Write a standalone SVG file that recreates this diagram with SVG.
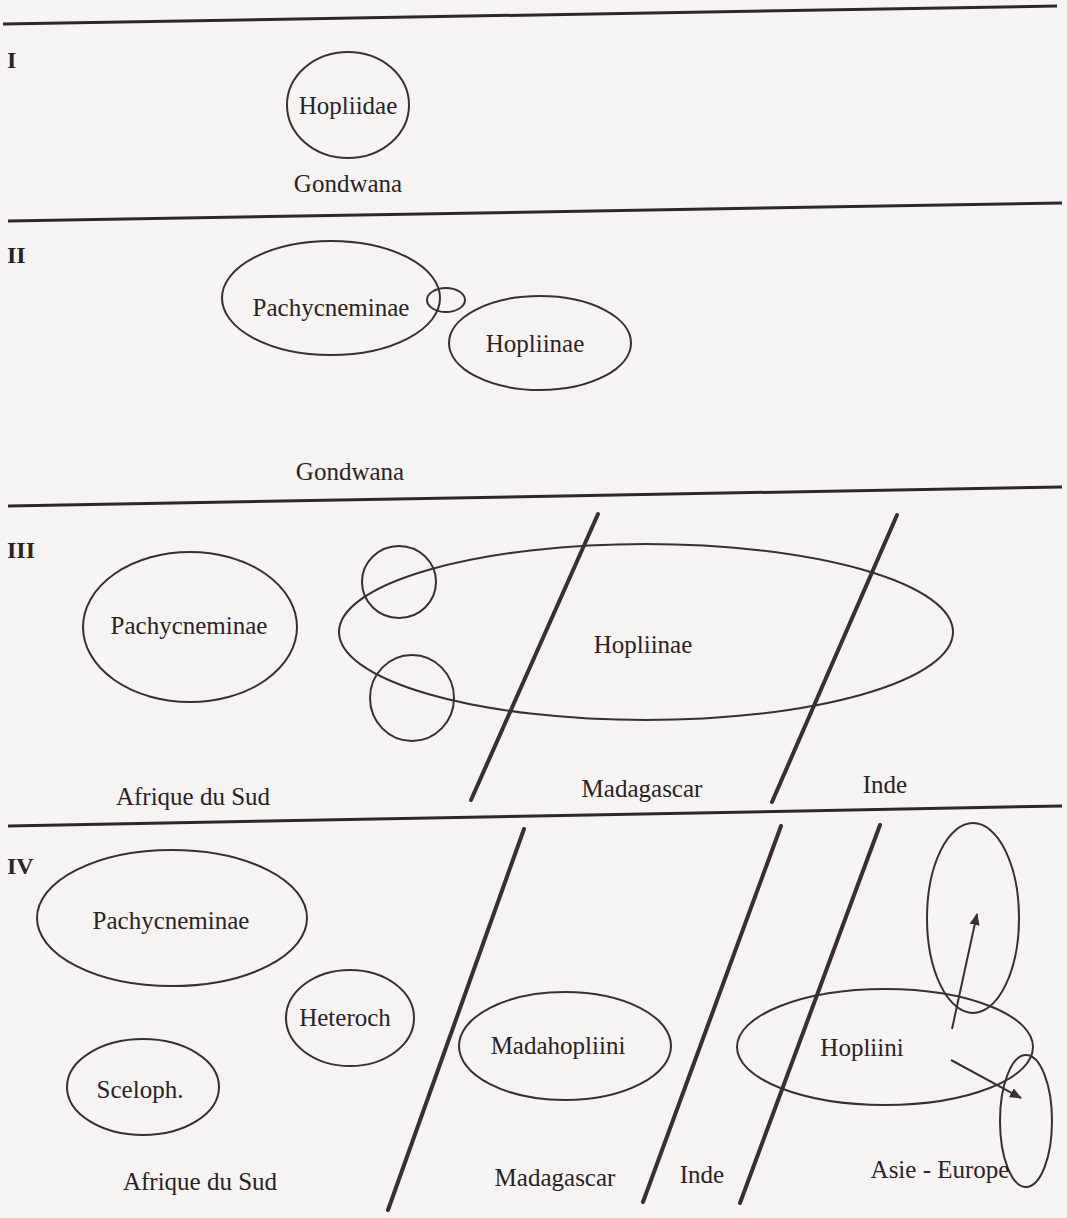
<svg xmlns="http://www.w3.org/2000/svg" width="1067" height="1218" viewBox="0 0 1067 1218">
<defs>
<style>
.bg{fill:#f6f4f2}
.sep{stroke:#2e2628;stroke-width:3;fill:none}
.sl{stroke:#3a2e30;stroke-width:4;fill:none;stroke-linecap:round}
.el{stroke:#3a2e30;stroke-width:2;fill:none}
.t{font-family:"Liberation Serif",serif;font-size:25px;fill:#2a2224;text-anchor:middle}
.n{font-family:"Liberation Serif",serif;font-size:24px;font-weight:bold;fill:#2a2224}
.ar{stroke:#3a2e30;stroke-width:2;fill:none}
</style>
<marker id="ah" markerWidth="12" markerHeight="10" refX="11" refY="5" orient="auto" markerUnits="userSpaceOnUse">
<path d="M0,0 L12,5 L0,10 Z" fill="#3a2e30"/>
</marker>
</defs>
<rect class="bg" x="0" y="0" width="1067" height="1218"/>
<g id="separators">
<line class="sep" x1="3" y1="24" x2="1057" y2="6"/>
<line class="sep" x1="8" y1="221" x2="1062" y2="203"/>
<line class="sep" x1="8" y1="506" x2="1062" y2="487"/>
<line class="sep" x1="8" y1="826" x2="1062" y2="806"/>
</g>
<g id="labels">
<text class="n" x="7" y="68">I</text>
<text class="n" x="7" y="263">II</text>
<text class="n" x="7" y="558">III</text>
<text class="n" x="7" y="874">IV</text>
</g>
<g id="s1-hopliidae">
<ellipse class="el" cx="348" cy="105" rx="61" ry="53"/>
<text class="t" x="348" y="114">Hopliidae</text>
</g>
<text class="t" x="348" y="192">Gondwana</text>
<g id="s2-pachycneminae">
<ellipse class="el" cx="331" cy="298" rx="109" ry="57"/>
<text class="t" x="331" y="316">Pachycneminae</text>
</g>
<g id="s2-hopliinae">
<ellipse class="el" cx="540" cy="343" rx="91" ry="47"/>
<text class="t" x="535" y="352">Hopliinae</text>
</g>
<g id="s2-overlap">
<ellipse class="el" cx="446" cy="300" rx="19" ry="12"/>
</g>
<text class="t" x="350" y="480">Gondwana</text>
<g id="s3-pachycneminae">
<ellipse class="el" cx="190" cy="627" rx="107" ry="75"/>
<text class="t" x="189" y="634">Pachycneminae</text>
</g>
<g id="s3-hopliinae">
<ellipse class="el" cx="646" cy="632" rx="307" ry="88"/>
<text class="t" x="643" y="653">Hopliinae</text>
</g>
<g id="s3-circle1"><ellipse class="el" cx="399" cy="582" rx="37" ry="36"/></g>
<g id="s3-circle2"><ellipse class="el" cx="412" cy="698" rx="42" ry="43"/></g>
<g id="s3-rifts">
<line class="sl" x1="598" y1="514" x2="471" y2="800"/>
<line class="sl" x1="897" y1="515" x2="772" y2="802"/>
</g>
<text class="t" x="193" y="805">Afrique du Sud</text>
<text class="t" x="642" y="797">Madagascar</text>
<text class="t" x="885" y="793">Inde</text>
<g id="s4-pachycneminae">
<ellipse class="el" cx="172" cy="918" rx="135" ry="68"/>
<text class="t" x="171" y="929">Pachycneminae</text>
</g>
<g id="s4-heteroch">
<ellipse class="el" cx="350" cy="1018" rx="64" ry="48"/>
<text class="t" x="345" y="1026">Heteroch</text>
</g>
<g id="s4-sceloph">
<ellipse class="el" cx="143" cy="1087" rx="76" ry="48"/>
<text class="t" x="140" y="1098">Sceloph.</text>
</g>
<g id="s4-madahoplini">
<ellipse class="el" cx="565" cy="1046" rx="106" ry="54"/>
<text class="t" x="558" y="1054">Madahopliini</text>
</g>
<g id="s4-hopliini">
<ellipse class="el" cx="885" cy="1047" rx="148" ry="58"/>
<text class="t" x="862" y="1056">Hopliini</text>
</g>
<g id="s4-asia-north"><ellipse class="el" cx="973" cy="918" rx="46" ry="95"/></g>
<g id="s4-asia-east"><ellipse class="el" cx="1026" cy="1121" rx="26" ry="66"/></g>
<g id="s4-rifts">
<line class="sl" x1="524" y1="829" x2="388" y2="1210"/>
<line class="sl" x1="781" y1="826" x2="643" y2="1202"/>
<line class="sl" x1="880" y1="825" x2="740" y2="1203"/>
</g>
<g id="connectors">
<line class="ar" x1="952" y1="1029" x2="977" y2="914" marker-end="url(#ah)"/>
<line class="ar" x1="951" y1="1060" x2="1021" y2="1098" marker-end="url(#ah)"/>
</g>
<text class="t" x="200" y="1190">Afrique du Sud</text>
<text class="t" x="555" y="1186">Madagascar</text>
<text class="t" x="702" y="1183">Inde</text>
<text class="t" x="940" y="1178">Asie - Europe</text>
</svg>
